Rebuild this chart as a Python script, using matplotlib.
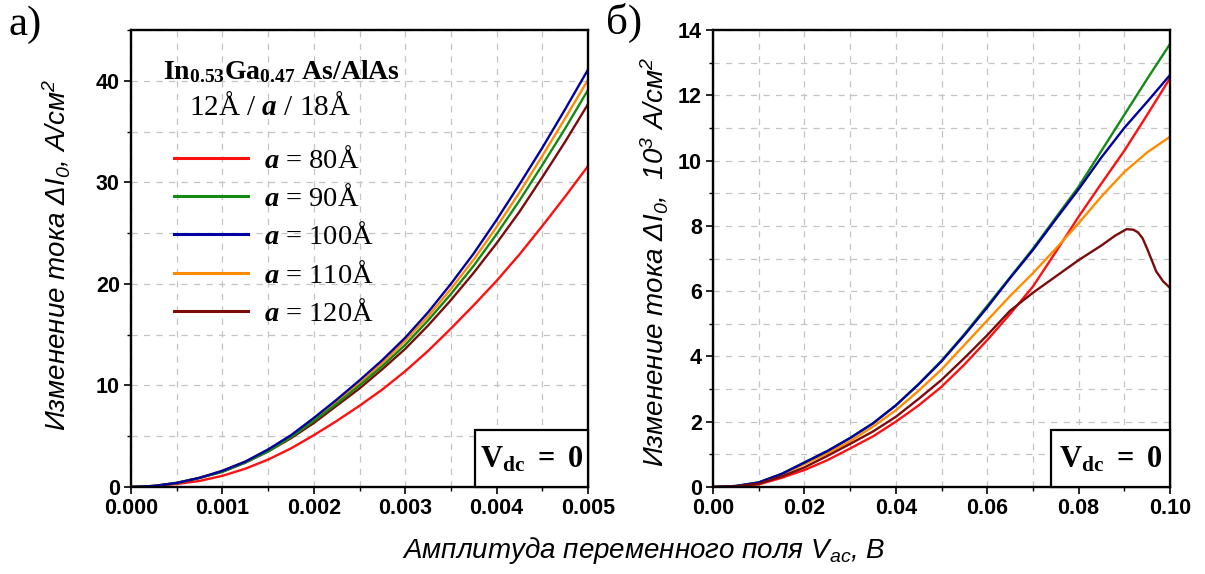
import matplotlib
matplotlib.use("Agg")
import matplotlib.pyplot as plt
from matplotlib.patches import Rectangle
from matplotlib.lines import Line2D
from matplotlib.ticker import MultipleLocator, FormatStrFormatter
from matplotlib.font_manager import FontProperties

plt.rcParams['mathtext.fontset'] = 'custom'
plt.rcParams['mathtext.rm'] = 'Liberation Serif'
plt.rcParams['mathtext.it'] = 'Liberation Serif:italic:bold'
plt.rcParams['mathtext.bf'] = 'Liberation Serif:bold'
plt.rcParams['mathtext.sf'] = 'Liberation Sans:italic'

# ---- panel (a): small AC amplitude, current in A/cm^2 ----
vac_a = [0, 0.00025, 0.0005, 0.00075, 0.001, 0.00125, 0.0015, 0.00175, 0.002,
         0.00225, 0.0025, 0.00275, 0.003, 0.00325, 0.0035, 0.00375, 0.004,
         0.00425, 0.0045, 0.00475, 0.005]
a80_a = [0, 0.1, 0.3, 0.6, 1.1, 1.8, 2.7, 3.8, 5.1, 6.5, 8.0, 9.6, 11.4, 13.4,
         15.6, 17.9, 20.3, 22.9, 25.7, 28.6, 31.6]
a90_a = [0, 0.1, 0.4, 0.9, 1.5, 2.4, 3.5, 4.9, 6.5, 8.2, 10.0, 11.9, 14.0, 16.4,
         19.0, 21.8, 24.9, 28.2, 31.7, 35.3, 39.1]
a100_a = [0, 0.1, 0.4, 0.9, 1.6, 2.5, 3.7, 5.1, 6.8, 8.6, 10.5, 12.5, 14.7, 17.2,
          20.0, 23.0, 26.3, 29.8, 33.4, 37.2, 41.1]
a110_a = [0, 0.1, 0.4, 0.9, 1.6, 2.5, 3.6, 5.0, 6.6, 8.4, 10.2, 12.2, 14.4, 16.8,
          19.5, 22.4, 25.6, 29.0, 32.6, 36.3, 40.1]
a120_a = [0, 0.1, 0.4, 0.9, 1.5, 2.4, 3.5, 4.8, 6.3, 8.0, 9.7, 11.6, 13.6, 15.9,
          18.4, 21.1, 24.0, 27.1, 30.5, 34.0, 37.7]

# ---- panel (b): larger AC amplitude, current in 10^3 A/cm^2 ----
vac_b = [0, 0.005, 0.01, 0.015, 0.02, 0.025, 0.03, 0.035, 0.04, 0.045, 0.05,
         0.055, 0.06, 0.065, 0.07, 0.075, 0.08, 0.085, 0.09, 0.095, 0.1]
a80_b = [0, 0.02, 0.08, 0.28, 0.52, 0.82, 1.18, 1.55, 2.0, 2.5, 3.07, 3.75, 4.5,
         5.3, 6.14, 7.2, 8.28, 9.3, 10.3, 11.4, 12.52]
a90_b = [0, 0.03, 0.14, 0.4, 0.75, 1.1, 1.5, 1.95, 2.5, 3.15, 3.87, 4.68, 5.55,
         6.42, 7.3, 8.25, 9.2, 10.3, 11.4, 12.5, 13.57]
a100_b = [0, 0.03, 0.14, 0.4, 0.75, 1.1, 1.5, 1.95, 2.5, 3.15, 3.85, 4.65, 5.5,
          6.4, 7.26, 8.2, 9.12, 10.1, 11.0, 11.8, 12.62]
a110_b = [0, 0.03, 0.13, 0.38, 0.7, 1.03, 1.4, 1.85, 2.35, 2.95, 3.6, 4.35, 5.1,
          5.85, 6.55, 7.3, 8.08, 8.9, 9.65, 10.25, 10.73]
vac_b120 = [0, 0.005, 0.01, 0.015, 0.02, 0.025, 0.03, 0.035, 0.04, 0.045, 0.05,
            0.055, 0.06, 0.065, 0.07, 0.075, 0.08, 0.085, 0.088, 0.0905, 0.092,
            0.093, 0.094, 0.095, 0.096, 0.097, 0.0985, 0.1]
a120_b = [0, 0.02, 0.1, 0.32, 0.6, 0.95, 1.32, 1.7, 2.15, 2.7, 3.28, 3.95, 4.65,
          5.4, 5.95, 6.45, 6.95, 7.4, 7.7, 7.9, 7.88, 7.8, 7.62, 7.3, 6.95, 6.6,
          6.3, 6.1]

labels = [r'$a$ = 80Å', r'$a$ = 90Å', r'$a$ = 100Å', r'$a$ = 110Å', r'$a$ = 120Å']
colors = ['#ff1010', '#138a13', '#0000a0', '#ff8c00', '#7a0c0c']

W, H = 1205, 574
fig = plt.figure(figsize=(W / 100, H / 100), dpi=100)
ax1 = fig.add_axes([131 / W, 87 / H, 457 / W, 457 / H])
ax2 = fig.add_axes([713 / W, 87 / H, 457 / W, 457 / H])

tick_font = FontProperties(family='Liberation Sans', weight='bold', size=15.5)


def style_axes(ax, xmaj, xmin, ymaj, ymin, xfmt):
    ax.set_axisbelow(True)
    ax.xaxis.set_major_locator(MultipleLocator(xmaj))
    ax.xaxis.set_minor_locator(MultipleLocator(xmin))
    ax.yaxis.set_major_locator(MultipleLocator(ymaj))
    ax.yaxis.set_minor_locator(MultipleLocator(ymin))
    ax.xaxis.set_major_formatter(FormatStrFormatter(xfmt))
    ax.yaxis.set_major_formatter(FormatStrFormatter('%d'))
    ax.grid(which='both', color='#c4c4c4', linestyle=(0, (5, 5)), linewidth=0.9)
    ax.tick_params(which='major', direction='out', length=5, width=1.2, pad=3)
    ax.tick_params(which='minor', direction='out', length=3, width=1.0)
    for lab in ax.get_xticklabels() + ax.get_yticklabels():
        lab.set_fontproperties(tick_font)
    for sp in ax.spines.values():
        sp.set_linewidth(1.7)


def vdc_box(ax, x0):
    ax.add_patch(Rectangle((x0, 0), 1 - x0, 0.125, transform=ax.transAxes,
                           facecolor='white', edgecolor='black', linewidth=1.6,
                           zorder=5, clip_on=False))
    ax.text(x0 + (1 - x0) / 2, 0.06, r'$\mathbf{V_{dc}\ =\ 0}$',
            transform=ax.transAxes, ha='center', va='center', fontsize=22,
            zorder=6)


# panel (a)
series_a = [a80_a, a90_a, a100_a, a110_a, a120_a]
for i in [0, 4, 3, 1, 2]:
    ax1.plot(vac_a, series_a[i], color=colors[i], lw=1.7)
ax1.set_xlim(0, 0.005)
ax1.set_ylim(0, 45)
style_axes(ax1, 0.001, 0.0005, 10, 5, '%.3f')
vdc_box(ax1, 0.753)

handles = [Line2D([], [], color=c, lw=2.2) for c in colors]
ax1.legend(handles, labels, loc='upper left', bbox_to_anchor=(0.095, 0.745),
           frameon=False, borderpad=0, borderaxespad=0, handlelength=2.6,
           handletextpad=0.55, labelspacing=0.4,
           prop=FontProperties(family='Liberation Serif', size=20.5))

ax1.text(0.07, 0.893, r'$\mathbf{In_{0.53}Ga_{0.47}\ As/AlAs}$',
         transform=ax1.transAxes, ha='left', va='baseline', fontsize=20)
ax1.text(0.305, 0.815, r'12Å / $a$ / 18Å', transform=ax1.transAxes,
         ha='center', va='baseline', fontsize=21, family='Liberation Serif')

# panel (b)
series_b = [a80_b, a90_b, a100_b, a110_b]
for i in [0, 3, 1, 2]:
    ax2.plot(vac_b, series_b[i], color=colors[i], lw=1.7)
ax2.plot(vac_b120, a120_b, color=colors[4], lw=1.7)
ax2.set_xlim(0, 0.1)
ax2.set_ylim(0, 14)
style_axes(ax2, 0.02, 0.01, 2, 1, '%.2f')
vdc_box(ax2, 0.74)

# panel letters and axis titles
fig.text(8 / W, 1 - 25 / H, 'а)', family='Liberation Serif', fontsize=31,
         ha='left', va='center')
fig.text(606 / W, 1 - 23 / H, 'б)', family='Liberation Serif', fontsize=31,
         ha='left', va='center')

lab_kw = dict(family='Liberation Sans', style='italic', fontsize=20,
              rotation=90, ha='center', va='center')
fig.text(57 / W, 1 - 255 / H,
         r'Изменение тока $\mathsf{\Delta I_0}$, А/см$\mathsf{^2}$', **lab_kw)
fig.text(655 / W, 1 - 262 / H,
         r'Изменение тока $\mathsf{\Delta I_0}$,  $\mathsf{10^3}$ А/см$\mathsf{^2}$',
         **lab_kw)
fig.text(644 / W, 1 - 551 / H, r'Амплитуда переменного поля $\mathsf{V_{ac}}$, В',
         family='Liberation Sans', style='italic', fontsize=20,
         ha='center', va='center')

fig.savefig('out.png', dpi=100, facecolor='white')
